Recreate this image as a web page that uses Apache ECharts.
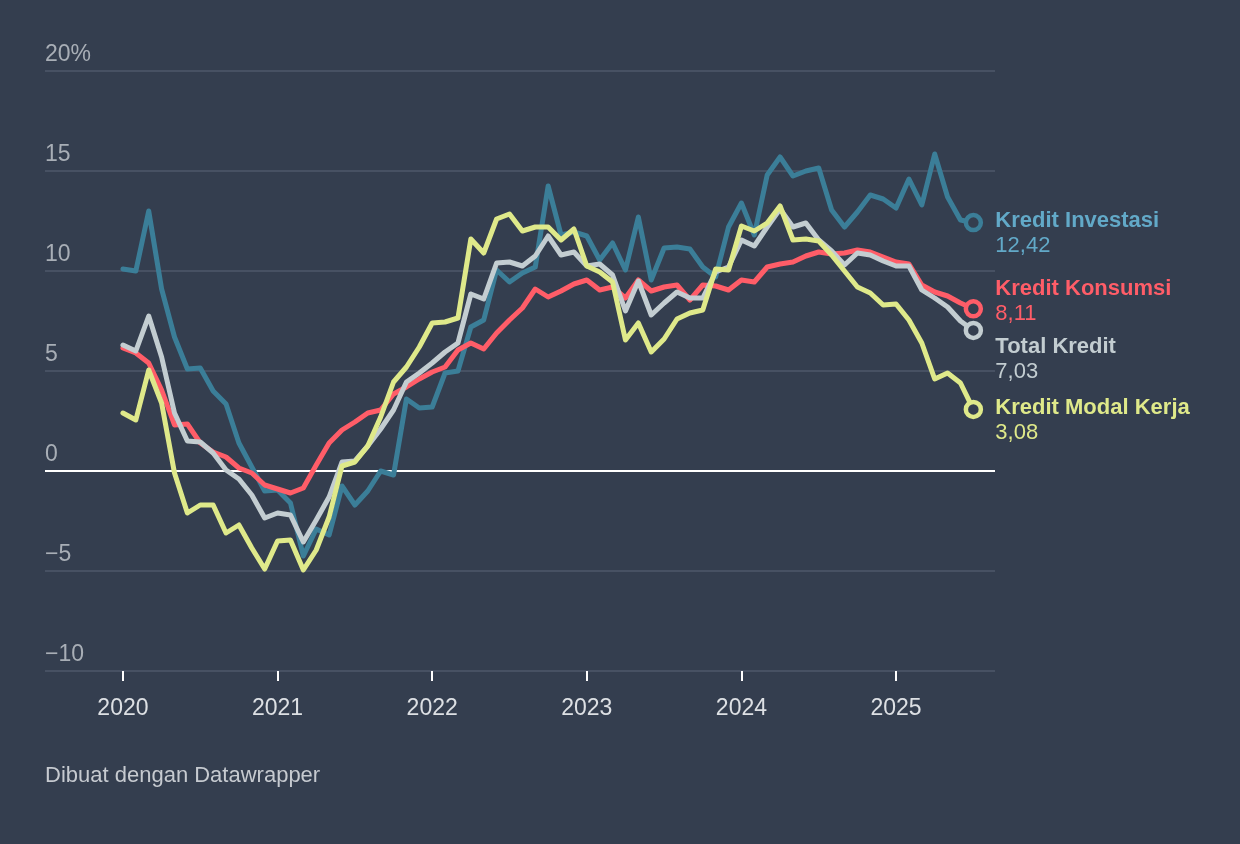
<!DOCTYPE html>
<html>
<head>
<meta charset="utf-8">
<title>Pertumbuhan Kredit</title>
<script src="https://cdn.jsdelivr.net/npm/echarts@6/dist/echarts.min.js"></script>
<style>
    html, body { margin: 0; padding: 0; background: #343e4f; }
    #main { width: 1240px; height: 844px; }
</style>
</head>
<body>
<div id="main"></div>
<script>
// bulan ke-0 = Januari 2020, sampai Juli 2025
var years = [2020, 2021, 2022, 2023, 2024, 2025];
var yTicks = [-10, -5, 0, 5, 10, 15, 20];

var investasi = [10.1, 10.0, 13.0, 9.1, 6.7, 5.1, 5.15, 4.0, 3.35, 1.4, 0.2, -1.0,
    -0.95, -1.6, -4.25, -2.9, -3.2, -0.75, -1.7, -1.0, 0.0, -0.2, 3.6, 3.15,
    3.2, 4.9, 5.0, 7.2, 7.55, 10.05, 9.45, 9.9, 10.2, 14.25, 11.8, 11.95,
    11.75, 10.55, 11.4, 10.05, 12.7, 9.55, 11.15, 11.2, 11.1, 10.2, 9.7, 12.2,
    13.4, 11.8, 14.8, 15.7, 14.75, 15.0, 15.15, 13.05, 12.2, 12.95, 13.8, 13.6,
    13.15, 14.6, 13.3, 15.85, 13.7, 12.55, 12.42];

var konsumsi = [6.15, 5.9, 5.4, 4.05, 2.3, 2.35, 1.4, 0.95, 0.7, 0.15, -0.1, -0.7,
    -0.9, -1.1, -0.85, 0.3, 1.4, 2.05, 2.45, 2.9, 3.05, 3.85, 4.2, 4.6,
    4.95, 5.2, 6.05, 6.4, 6.1, 6.9, 7.55, 8.15, 9.1, 8.7, 9.0, 9.35,
    9.55, 9.05, 9.2, 8.65, 9.55, 9.0, 9.2, 9.3, 8.55, 9.3, 9.25, 9.05,
    9.55, 9.45, 10.2, 10.35, 10.45, 10.75, 10.95, 10.85, 10.9, 11.05, 10.95, 10.7,
    10.45, 10.35, 9.3, 8.95, 8.75, 8.4, 8.11];

var total = [6.3, 6.0, 7.75, 5.7, 2.9, 1.5, 1.45, 0.9, 0.05, -0.4, -1.2, -2.35,
    -2.1, -2.2, -3.55, -2.45, -1.3, 0.45, 0.5, 1.25, 2.1, 3.05, 4.45, 4.9,
    5.4, 5.95, 6.4, 8.85, 8.6, 10.4, 10.45, 10.25, 10.75, 11.75, 10.8, 10.95,
    10.25, 10.35, 9.8, 8.0, 9.5, 7.8, 8.4, 8.95, 8.65, 8.65, 9.95, 10.2,
    11.55, 11.25, 12.2, 13.1, 12.2, 12.4, 11.55, 11.0, 10.3, 10.9, 10.8, 10.5,
    10.25, 10.25, 9.05, 8.65, 8.2, 7.5, 7.03];

var modalKerja = [2.9, 2.55, 5.05, 3.4, -0.1, -2.1, -1.7, -1.7, -3.1, -2.7, -3.85, -4.9,
    -3.5, -3.45, -4.95, -3.95, -2.3, 0.25, 0.45, 1.25, 2.7, 4.45, 5.2, 6.2,
    7.4, 7.45, 7.65, 11.6, 10.9, 12.6, 12.85, 12.0, 12.2, 12.2, 11.55, 12.1,
    10.25, 9.95, 9.45, 6.55, 7.4, 5.95, 6.6, 7.6, 7.9, 8.05, 10.1, 10.05,
    12.25, 12.0, 12.4, 13.25, 11.55, 11.6, 11.5, 10.8, 10.0, 9.2, 8.9, 8.3,
    8.35, 7.55, 6.4, 4.6, 4.9, 4.4, 3.08];

var bg = '#343e4f';
var font = '"Liberation Sans", Arial, Helvetica, sans-serif';

function toPairs(arr) {
    var out = [];
    for (var i = 0; i < arr.length; i++) {
        out.push([i, arr[i]]);
    }
    return out;
}

function makeSeries(name, arr, lineColor, labelColor, dy) {
    var last = arr.length - 1;
    return {
        name: name,
        type: 'line',
        data: toPairs(arr),
        showAllSymbol: true,
        symbol: function (v, params) {
            return params.dataIndex === last ? 'circle' : 'none';
        },
        symbolSize: 15,
        itemStyle: { color: bg, borderColor: lineColor, borderWidth: 4.5 },
        lineStyle: { color: lineColor, width: 5, join: 'round', cap: 'round' },
        emphasis: { disabled: true },
        endLabel: {
            show: true,
            distance: 22,
            offset: [0, dy],
            formatter: function (p) {
                var v = p.value[1].toFixed(2).replace('.', ',');
                return '{t|' + p.seriesName + '}\n{v|' + v + '}';
            },
            rich: {
                t: { fontFamily: font, fontSize: 22, fontWeight: 'bold', color: labelColor, lineHeight: 25 },
                v: { fontFamily: font, fontSize: 22, color: labelColor, lineHeight: 25 }
            }
        }
    };
}

var gridColor = '#475163';
var splitColors = yTicks.map(function (t) { return t === 0 ? '#ffffff' : gridColor; });
var yearPos = years.map(function (y) { return (y - 2020) * 12; });

var option = {
    backgroundColor: bg,
    animation: false,
    grid: { left: 45, right: 245, top: 71, bottom: 173 },
    xAxis: {
        type: 'value',
        min: -6.05,
        max: 67.68,
        splitLine: { show: false },
        axisLine: { show: false, onZero: false },
        axisTick: {
            show: true,
            customValues: yearPos,
            length: 10,
            lineStyle: { color: '#ffffff', width: 2 }
        },
        axisLabel: {
            customValues: yearPos,
            formatter: function (v) { return String(2020 + Math.round(v / 12)); },
            margin: 26,
            fontFamily: font,
            fontSize: 23,
            color: '#dde0e4'
        }
    },
    yAxis: {
        type: 'value',
        min: -10,
        max: 20,
        interval: 5,
        axisLine: { show: false },
        axisTick: { show: false },
        splitLine: { lineStyle: { color: splitColors, width: 2 } },
        axisLabel: {
            inside: true,
            margin: 0,
            verticalAlign: 'bottom',
            padding: [0, 0, 5, 0],
            fontFamily: font,
            fontSize: 23,
            color: '#a8aeb6',
            formatter: function (v) {
                if (v === 20) return '20%';
                if (v < 0) return '\u2212' + Math.abs(v);
                return String(v);
            }
        }
    },
    series: [
        makeSeries('Kredit Investasi', investasi, '#3b7e98', '#62a9c8', 11),
        makeSeries('Kredit Konsumsi', konsumsi, '#ff5d68', '#ff5d68', -7),
        makeSeries('Total Kredit', total, '#c3cdd1', '#c3cdd1', 29),
        makeSeries('Kredit Modal Kerja', modalKerja, '#dfe98a', '#dfe98a', 11)
    ],
    graphic: [
        {
            type: 'text',
            left: 45,
            top: 765,
            style: {
                text: 'Dibuat dengan Datawrapper',
                fontFamily: font,
                fontSize: 22,
                fill: '#c6cad0'
            }
        }
    ]
};

var chart = echarts.init(document.getElementById('main'));
chart.setOption(option);
</script>
</body>
</html>
